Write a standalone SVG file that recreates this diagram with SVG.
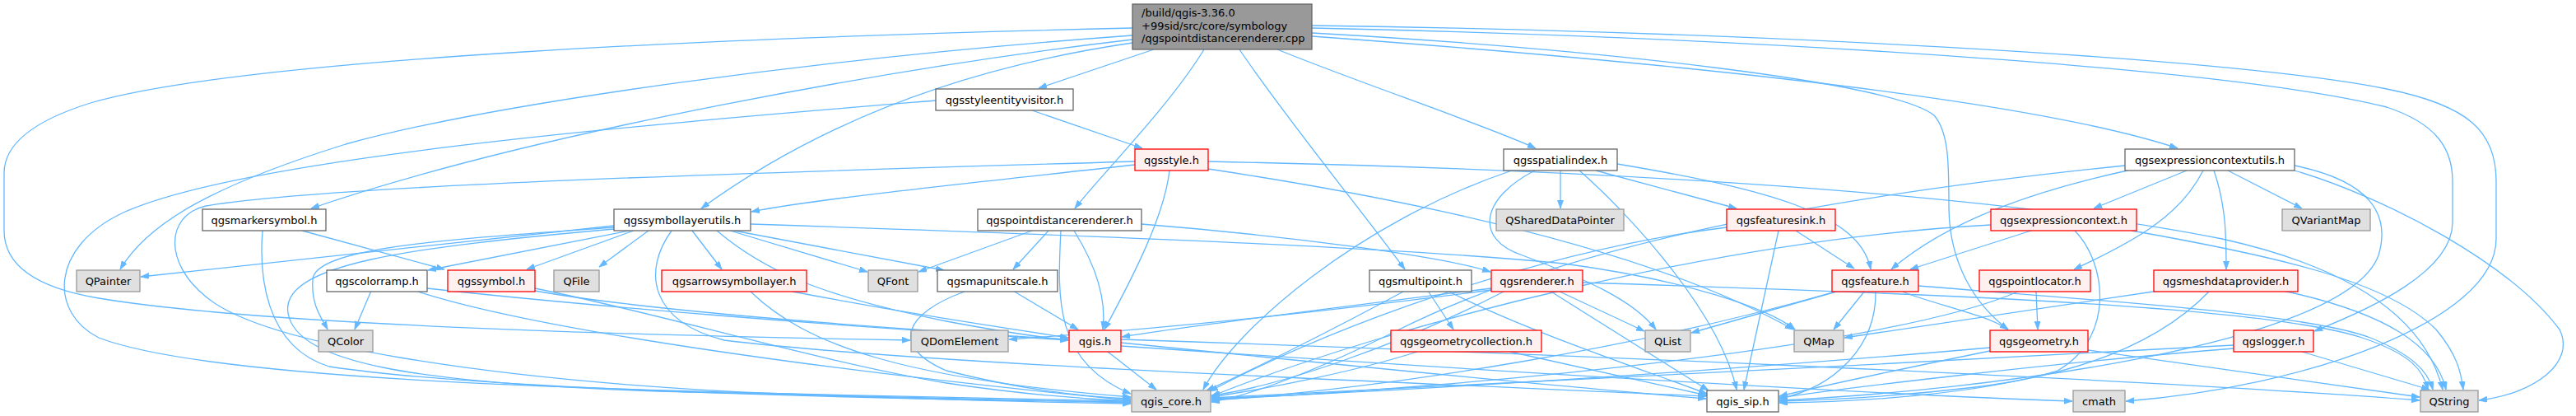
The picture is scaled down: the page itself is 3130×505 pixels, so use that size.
<svg xmlns="http://www.w3.org/2000/svg" width="3130" height="505" viewBox="0 0 3130 505">
<style>
.n{fill:#ffffff;stroke:#666666;stroke-width:1.3}
.r{fill:#fff0f0;stroke:#ff0000;stroke-width:1.3}
.x{fill:#e0e0e0;stroke:#999999;stroke-width:1.3}
.m{fill:#999999;stroke:#666666;stroke-width:1.3}
text{font-family:"DejaVu Sans","Liberation Sans",sans-serif;font-size:13px;fill:#000000}
.c{text-anchor:middle}
#edges path{fill:none;stroke:#63b8ff;stroke-width:1.3;marker-end:url(#ah)}
</style>
<defs>
<marker id="ah" markerUnits="userSpaceOnUse" markerWidth="11" markerHeight="8" refX="10" refY="3.5" orient="auto">
<path d="M0,0 L10,3.5 L0,7 z" fill="#63b8ff" stroke="#63b8ff" stroke-width="0.8"/>
</marker>
</defs>
<rect width="3130" height="505" fill="#ffffff"/>
<g id="edges">
<path d="M1402,60 L1262,107"/>
<path d="M1463,60 C1420,130 1340,210 1306,253"/>
<path d="M1506,60 C1560,140 1650,250 1707,327"/>
<path d="M1552,60 C1650,100 1800,150 1866,180"/>
<path d="M1376,48 C1100,80 650,160 378,253"/>
<path d="M1376,52 C1150,85 980,160 852,253"/>
<path d="M1376,43 C1000,70 600,125 420,175 C260,225 180,270 146,327"/>
<path d="M1376,34 C900,45 300,70 110,125 C30,150 5,180 5,210 L5,280 C5,330 60,352 120,362 C300,392 700,406 1106,413"/>
<path d="M1594,44 C1950,70 2450,115 2646,180"/>
<path d="M1594,40 C1950,60 2300,100 2350,140 C2368,160 2368,200 2368,250 C2368,320 2400,370 2440,400"/>
<path d="M1594,34 C2100,45 2700,80 2900,130 C2960,150 2980,180 2980,220 L2980,270 C2980,330 2880,375 2812,402"/>
<path d="M1594,31 C2100,38 2700,68 2900,108 C3000,128 3033,160 3033,220 L3033,290 C3033,390 2800,470 2583,487"/>
<path d="M1254,134 L1388,180"/>
<path d="M1137,122 C800,150 300,190 150,258 C60,300 60,380 120,410 C250,460 700,472 1000,479 C1200,484 1300,486 1374,487"/>
<path d="M1379,200 C1200,220 1000,240 913,257"/>
<path d="M1379,196 C900,210 400,225 250,250 C200,262 200,320 250,360 C320,420 600,460 900,476 C1150,486 1300,489 1374,490"/>
<path d="M1421,207 C1415,260 1380,330 1342,400"/>
<path d="M1468,205 C1700,240 2000,300 2179,400"/>
<path d="M1468,196 C1900,205 2400,230 2700,290 C2880,330 2950,400 2968,473"/>
<path d="M1896,207 L1896,253"/>
<path d="M1837,207 C1650,270 1500,400 1462,473"/>
<path d="M1865,207 C1800,240 1790,290 1850,310 C1930,340 1985,365 2012,400"/>
<path d="M1919,207 C1980,260 2090,380 2110,473"/>
<path d="M1939,207 L2110,253"/>
<path d="M1965,199 C2150,230 2260,260 2273,327"/>
<path d="M2657,207 L2544,253"/>
<path d="M2707,207 L2797,253"/>
<path d="M2677,207 C2650,260 2600,290 2520,327"/>
<path d="M2690,207 C2705,250 2705,290 2705,327"/>
<path d="M2585,207 C2480,230 2370,265 2298,327"/>
<path d="M2582,201 C2200,240 1900,300 1700,400 C1600,450 1520,480 1472,488"/>
<path d="M2788,201 C2880,220 2905,260 2890,310 C2850,420 2400,475 2162,486"/>
<path d="M2788,207 C2900,240 3050,320 3110,400 C3130,440 3080,478 3012,486"/>
<path d="M2468,280 L2321,327"/>
<path d="M2419,273 C2100,290 1700,390 1472,481"/>
<path d="M2521,280 C2560,320 2570,410 2500,450 C2400,480 2250,488 2162,489"/>
<path d="M2590,280 C2760,310 2900,340 2960,400 C2985,430 2990,450 2993,473"/>
<path d="M2474,354 L2476,400"/>
<path d="M2452,354 C2300,420 1800,470 1472,485"/>
<path d="M2623,353 C2450,380 2300,400 2241,410"/>
<path d="M2685,353 C2640,400 2560,450 2400,470 C2300,482 2200,486 2162,487"/>
<path d="M2774,353 C2900,380 2960,420 2972,473"/>
<path d="M2537,425 L2940,482"/>
<path d="M2418,422 C2100,450 1700,475 1472,484"/>
<path d="M2418,426 C2300,450 2200,472 2162,481"/>
<path d="M2797,427 L2952,473"/>
<path d="M2714,419 C2300,440 1800,470 1472,483"/>
<path d="M2714,423 C2500,440 2250,470 2162,483"/>
<path d="M2235,353 L2055,404"/>
<path d="M2266,353 L2228,400"/>
<path d="M2279,354 C2280,420 2230,470 2162,484"/>
<path d="M2312,354 C2350,370 2410,380 2440,400"/>
<path d="M2331,347 C2550,365 2800,380 2880,410 C2930,430 2950,450 2956,473"/>
<path d="M2230,354 C2000,420 1700,470 1472,486"/>
<path d="M1893,353 L1998,402"/>
<path d="M1883,353 L2076,474"/>
<path d="M1812,350 C1650,370 1450,395 1363,409"/>
<path d="M1812,352 C1600,380 1400,400 1226,412"/>
<path d="M1827,354 C1700,420 1550,470 1472,480"/>
<path d="M1923,343 C2300,355 2750,370 2870,410 C2930,430 2945,450 2950,473"/>
<path d="M1735,353 L1766,400"/>
<path d="M1761,354 C1850,400 2000,450 2074,478"/>
<path d="M1705,354 C1620,400 1520,450 1466,474"/>
<path d="M1722,427 C1650,450 1550,470 1472,482"/>
<path d="M1835,427 L2074,480"/>
<path d="M2161,280 L2119,473"/>
<path d="M2182,280 L2253,326"/>
<path d="M2098,276 C1900,300 1650,380 1470,475"/>
<path d="M1346,427 L1405,473"/>
<path d="M1362,416 C1600,440 1900,470 2073,484"/>
<path d="M1362,420 C1800,450 2300,480 2518,487"/>
<path d="M1362,412 C1900,430 2600,460 2940,486"/>
<path d="M1172,354 C1100,380 1080,420 1150,450 C1250,475 1320,482 1374,484"/>
<path d="M1231,353 L1310,400"/>
<path d="M912,354 C980,420 1100,460 1374,482"/>
<path d="M963,354 C1100,380 1200,395 1298,410"/>
<path d="M650,353 C800,380 1100,400 1298,412"/>
<path d="M650,350 C800,380 1000,440 1150,465 C1250,480 1330,485 1374,487"/>
<path d="M451,353 L431,400"/>
<path d="M519,350 C700,370 1000,395 1298,413"/>
<path d="M508,354 C650,400 1000,450 1374,486"/>
<path d="M367,280 L540,327"/>
<path d="M319,280 C315,330 320,420 400,445 C600,475 1100,485 1374,488"/>
<path d="M746,274 L171,336"/>
<path d="M765,280 L520,328"/>
<path d="M770,280 L640,327"/>
<path d="M788,280 L728,324"/>
<path d="M746,276 C550,290 380,300 380,340 C378,370 390,385 398,400"/>
<path d="M746,278 C500,300 340,320 350,380 C360,440 500,465 800,475 C1100,483 1300,487 1374,489"/>
<path d="M816,280 C780,330 790,390 880,413 C1100,440 1600,460 2073,481"/>
<path d="M841,280 L877,327"/>
<path d="M871,280 C930,330 1000,360 1150,390 C1230,405 1270,410 1298,413"/>
<path d="M887,280 L1054,330"/>
<path d="M892,280 L1147,328"/>
<path d="M912,272 C1300,285 1700,300 1900,320 C2050,340 2150,375 2181,400"/>
<path d="M1254,280 L1116,330"/>
<path d="M1274,280 L1231,327"/>
<path d="M1289,280 C1285,360 1280,440 1374,478"/>
<path d="M1305,280 C1330,320 1345,360 1340,400"/>
<path d="M1387,272 C1550,285 1750,310 1811,330"/>
</g>
<g id="main"><rect class="m" x="1376" y="5" width="218" height="55"/><text x="1387" y="20">/build/qgis-3.36.0</text><text x="1387" y="35.5">+99sid/src/core/symbology</text><text x="1387" y="51">/qgspointdistancerenderer.cpp</text></g>
<g id="qgsstyleentityvisitor"><rect class="n" x="1137" y="108" width="167" height="26"/><text class="c" x="1220.5" y="125.5">qgsstyleentityvisitor.h</text></g>
<g id="qgsstyle"><rect class="r" x="1379" y="181" width="89" height="26"/><text class="c" x="1423.5" y="198.5">qgsstyle.h</text></g>
<g id="qgsspatialindex"><rect class="n" x="1827" y="181" width="138" height="26"/><text class="c" x="1896" y="198.5">qgsspatialindex.h</text></g>
<g id="qgsexpressioncontextutils"><rect class="n" x="2582" y="181" width="206" height="26"/><text class="c" x="2685" y="198.5">qgsexpressioncontextutils.h</text></g>
<g id="qgsmarkersymbol"><rect class="n" x="246" y="254" width="150" height="26"/><text class="c" x="321" y="271.5">qgsmarkersymbol.h</text></g>
<g id="qgssymbollayerutils"><rect class="n" x="746" y="254" width="166" height="26"/><text class="c" x="829" y="271.5">qgssymbollayerutils.h</text></g>
<g id="qgspointdistancerenderer"><rect class="n" x="1188" y="254" width="199" height="26"/><text class="c" x="1287.5" y="271.5">qgspointdistancerenderer.h</text></g>
<g id="QSharedDataPointer"><rect class="x" x="1818" y="254" width="155" height="26"/><text class="c" x="1895.5" y="271.5">QSharedDataPointer</text></g>
<g id="qgsfeaturesink"><rect class="r" x="2098" y="254" width="132" height="26"/><text class="c" x="2164" y="271.5">qgsfeaturesink.h</text></g>
<g id="qgsexpressioncontext"><rect class="r" x="2419" y="254" width="177" height="26"/><text class="c" x="2507.5" y="271.5">qgsexpressioncontext.h</text></g>
<g id="QVariantMap"><rect class="x" x="2773" y="254" width="107" height="26"/><text class="c" x="2826.5" y="271.5">QVariantMap</text></g>
<g id="QPainter"><rect class="x" x="93" y="328" width="77" height="26"/><text class="c" x="131.5" y="345.5">QPainter</text></g>
<g id="qgscolorramp"><rect class="n" x="397" y="328" width="122" height="26"/><text class="c" x="458" y="345.5">qgscolorramp.h</text></g>
<g id="qgssymbol"><rect class="r" x="544" y="328" width="106" height="26"/><text class="c" x="597" y="345.5">qgssymbol.h</text></g>
<g id="QFile"><rect class="x" x="673" y="328" width="55" height="26"/><text class="c" x="700.5" y="345.5">QFile</text></g>
<g id="qgsarrowsymbollayer"><rect class="r" x="804" y="328" width="176" height="26"/><text class="c" x="892" y="345.5">qgsarrowsymbollayer.h</text></g>
<g id="QFont"><rect class="x" x="1055" y="328" width="60" height="26"/><text class="c" x="1085" y="345.5">QFont</text></g>
<g id="qgsmapunitscale"><rect class="n" x="1139" y="328" width="146" height="26"/><text class="c" x="1212" y="345.5">qgsmapunitscale.h</text></g>
<g id="qgsmultipoint"><rect class="n" x="1664" y="328" width="124" height="26"/><text class="c" x="1726" y="345.5">qgsmultipoint.h</text></g>
<g id="qgsrenderer"><rect class="r" x="1812" y="328" width="111" height="26"/><text class="c" x="1867.5" y="345.5">qgsrenderer.h</text></g>
<g id="qgsfeature"><rect class="r" x="2226" y="328" width="105" height="26"/><text class="c" x="2278.5" y="345.5">qgsfeature.h</text></g>
<g id="qgspointlocator"><rect class="r" x="2405" y="328" width="135" height="26"/><text class="c" x="2472.5" y="345.5">qgspointlocator.h</text></g>
<g id="qgsmeshdataprovider"><rect class="r" x="2617" y="328" width="175" height="26"/><text class="c" x="2704.5" y="345.5">qgsmeshdataprovider.h</text></g>
<g id="QColor"><rect class="x" x="387" y="401" width="66" height="26"/><text class="c" x="420" y="418.5">QColor</text></g>
<g id="QDomElement"><rect class="x" x="1107" y="401" width="118" height="26"/><text class="c" x="1166" y="418.5">QDomElement</text></g>
<g id="qgis"><rect class="r" x="1299" y="401" width="63" height="26"/><text class="c" x="1330.5" y="418.5">qgis.h</text></g>
<g id="qgsgeometrycollection"><rect class="r" x="1690" y="401" width="183" height="26"/><text class="c" x="1781.5" y="418.5">qgsgeometrycollection.h</text></g>
<g id="QList"><rect class="x" x="1999" y="401" width="55" height="26"/><text class="c" x="2026.5" y="418.5">QList</text></g>
<g id="QMap"><rect class="x" x="2180" y="401" width="60" height="26"/><text class="c" x="2210" y="418.5">QMap</text></g>
<g id="qgsgeometry"><rect class="r" x="2418" y="401" width="119" height="26"/><text class="c" x="2477.5" y="418.5">qgsgeometry.h</text></g>
<g id="qgslogger"><rect class="r" x="2714" y="401" width="97" height="26"/><text class="c" x="2762.5" y="418.5">qgslogger.h</text></g>
<g id="qgis_core"><rect class="x" x="1375" y="474" width="96" height="26"/><text class="c" x="1423" y="491.5">qgis_core.h</text></g>
<g id="qgis_sip"><rect class="n" x="2074" y="474" width="87" height="26"/><text class="c" x="2117.5" y="491.5">qgis_sip.h</text></g>
<g id="cmath"><rect class="x" x="2519" y="474" width="63" height="26"/><text class="c" x="2550.5" y="491.5">cmath</text></g>
<g id="QString"><rect class="x" x="2941" y="474" width="70" height="26"/><text class="c" x="2976" y="491.5">QString</text></g>
</svg>
